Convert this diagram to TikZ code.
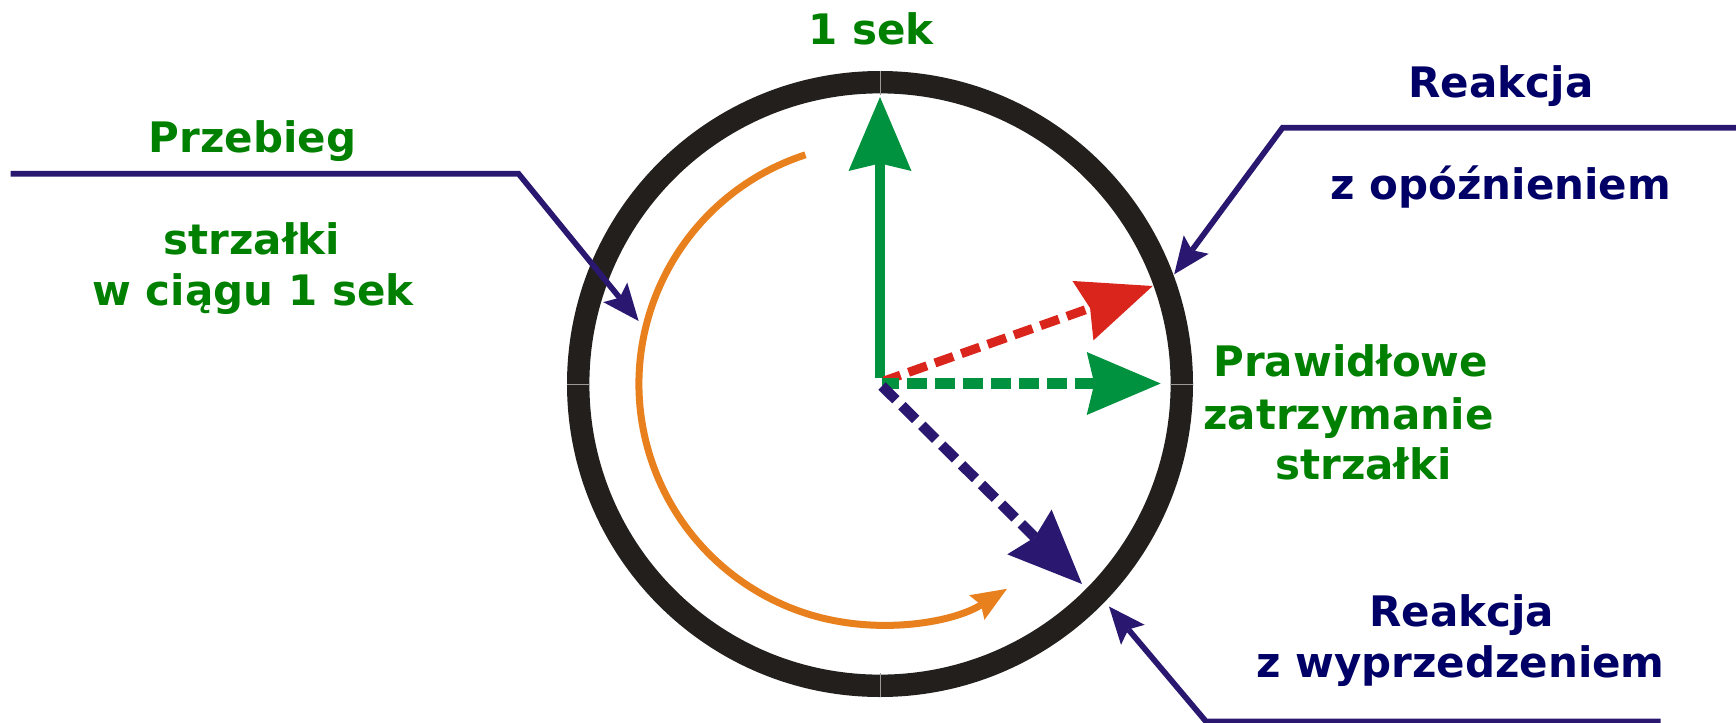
\documentclass[tikz,border=0pt]{standalone}
\usepackage{fontspec}
\setmainfont{DejaVu Sans}
\usetikzlibrary{arrows.meta}
\definecolor{ringc}{HTML}{231F1C}
\definecolor{arrgreen}{HTML}{00923F}
\definecolor{arrred}{HTML}{DA251D}
\definecolor{arrnavy}{HTML}{2A1870}
\definecolor{arrorange}{HTML}{E8801E}
\definecolor{txtgreen}{HTML}{008000}
\definecolor{txtnavy}{HTML}{000066}
\definecolor{seamc}{HTML}{9A9A9A}
\begin{document}
\begin{tikzpicture}[x=0.5pt,y=-0.5pt,
  lbl/.style={font=\fontsize{21}{25}\selectfont\bfseries, anchor=base, inner sep=0pt},
  gtext/.style={lbl, text=txtgreen},
  ntext/.style={lbl, text=txtnavy},
  bighead/.style={-{Stealth[length=37pt,width=31.5pt,inset=3.8pt,line width=0pt]}},
  dashlook/.style={dash pattern=on 9.75pt off 4.25pt, line cap=butt},
  pointer/.style={draw=arrnavy, line width=2.85pt,
    -{Stealth[length=18.5pt,width=15.5pt,inset=3.5pt,line width=0pt]}},
  seam/.style={draw=seamc, line width=0.5pt}
]
\useasboundingbox (0,0) rectangle (1736,723);
\clip (0,0) rectangle (1736,723);

% centre and tips
\coordinate (c) at (880,384);
\coordinate (tipup) at (880,97);
\coordinate (tipright) at (1160.7,383.5);
\coordinate (tipred) at (1152.7,286);
\coordinate (tipnavy) at (1082,584);

% clock ring
\draw[ringc, line width=11.2pt] (c) circle[radius=301.8];
\draw[seam] (880,71) -- (880,95);
\draw[seam] (880,673) -- (880,697);
\draw[seam] (567,384) -- (590,384);
\draw[seam] (1170,384) -- (1193,384);

% orange sweep arc
\coordinate (arcstart) at (805.5,154.8);
\draw[arrorange, line width=3.5pt,
  -{Stealth[length=17.75pt,width=14.5pt,inset=2.5pt,line width=0pt]}]
  (arcstart) arc[start angle=-108, end angle=-301.8, radius=241];

% hands
\draw[arrgreen, line width=5.35pt, bighead] (880,378) -- (tipup);
\coordinate (sred) at (884,381);
\coordinate (sgreen) at (882,383.5);
\coordinate (snavy) at (882,386);
\draw[arrred, line width=4.5pt, dashlook, dash phase=1pt, bighead] (sred) -- (tipred);
\draw[arrgreen, line width=5.35pt, dashlook, dash phase=1.5pt, bighead] (sgreen) -- (tipright);
\draw[arrnavy, line width=5.2pt, dashlook, bighead] (snavy) -- (tipnavy);

% pointer lines
\coordinate (pla) at (10.5,173.7);
\coordinate (plb) at (518.5,173.7);
\coordinate (plt) at (638.6,321);
\draw[pointer] (pla) -- (plb) -- (plt);

\coordinate (pra) at (1745,127.7);
\coordinate (prb) at (1282.6,127.7);
\coordinate (prt) at (1174.2,274.3);
\draw[pointer] (pra) -- (prb) -- (prt);

\coordinate (pba) at (1660.5,721.5);
\coordinate (pbb) at (1206,721.5);
\coordinate (pbt) at (1109,606.5);
\draw[pointer] (pba) -- (pbb) -- (pbt);

% texts
\node[gtext] (sek) at (870.9,44.3) {1 sek};
\node[gtext] (prz1) at (252.7,152.3) {Przebieg};
\node[gtext] (prz2) at (252,254) {strzałki};
\node[gtext] (prz3) at (253,305.7) {w ciągu 1 sek};
\node[ntext] (op1) at (1501,97.3) {Reakcja};
\node[ntext] (op2) at (1500.8,199.3) {z opóźnieniem};
\node[gtext] (pr1) at (1350.8,376.7) {Prawidłowe};
\node[gtext] (pr2) at (1348.5,429.3) {zatrzymanie};
\node[gtext] (pr3) at (1363.5,479) {strzałki};
\node[ntext] (wy1) at (1461.8,626.7) {Reakcja};
\node[ntext] (wy2) at (1460.4,677.3) {z wyprzedzeniem};
\end{tikzpicture}
\end{document}
